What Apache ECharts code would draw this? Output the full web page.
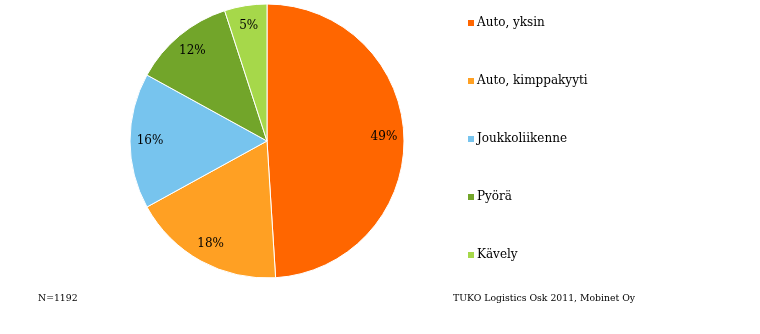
<!DOCTYPE html>
<html>
<head>
<meta charset="utf-8">
<script src="https://cdn.jsdelivr.net/npm/echarts@6/dist/echarts.min.js"></script>
<style>
  html, body { margin: 0; padding: 0; background: #fff; }
  #chart { width: 760px; height: 334px; }
</style>
</head>
<body>
<div id="chart"></div>
<script>
const categories = ['Auto, yksin', 'Auto, kimppakyyti', 'Joukkoliikenne', 'Pyörä', 'Kävely']
const shares = [49, 18, 16, 12, 5]
const colors = ['#ff6600', '#ffa023', '#77c4ee', '#72a52a', '#a6d84a']
const sampleNote = 'N=1192'
const sourceNote = 'TUKO Logistics Osk 2011, Mobinet Oy'

const font = '"DejaVu Serif", serif'
const pieData = categories.map((name, i) => ({ name, value: shares[i], itemStyle: { color: colors[i] } }))

const chart = echarts.init(document.getElementById('chart'), null, { renderer: 'canvas' })
chart.setOption({
  animation: false,
  legend: {
    orient: 'vertical',
    left: 461,
    top: 11,
    itemWidth: 8,
    itemHeight: 8,
    itemGap: 44,
    icon: 'rect',
    data: categories,
    textStyle: { fontFamily: font, fontSize: 12, color: '#000', lineHeight: 14, padding: [0, 0, 0, -3] },
  },
  graphic: [
    { type: 'text', left: 38, top: 294, style: { text: sampleNote, font: '9.3px ' + font, fill: '#000' } },
    { type: 'text', left: 453, top: 294, style: { text: sourceNote, font: '9.3px ' + font, fill: '#000' } },
  ],
  series: [
    {
      type: 'pie',
      center: [267, 141],
      radius: [0, 137],
      startAngle: 90,
      clockwise: true,
      data: pieData,
      label: { show: false },
      labelLine: { show: false },
      itemStyle: { borderColor: '#fff', borderWidth: 1 },
      emphasis: { disabled: true },
    },
    {
      // transparent ring just to place percentage labels near the rim
      type: 'pie',
      silent: true,
      center: [267, 141],
      radius: [91, 137],
      startAngle: 90,
      clockwise: true,
      legendHoverLink: false,
      data: categories.map((name, i) => ({ name, value: shares[i], itemStyle: { color: 'rgba(0,0,0,0)' } })),
      label: {
        show: true,
        position: 'inside',
        formatter: '{c}%',
        fontFamily: font,
        fontSize: 12,
        color: '#000',
      },
      labelLine: { show: false },
      emphasis: { disabled: true },
    },
  ],
})
</script>
</body>
</html>
